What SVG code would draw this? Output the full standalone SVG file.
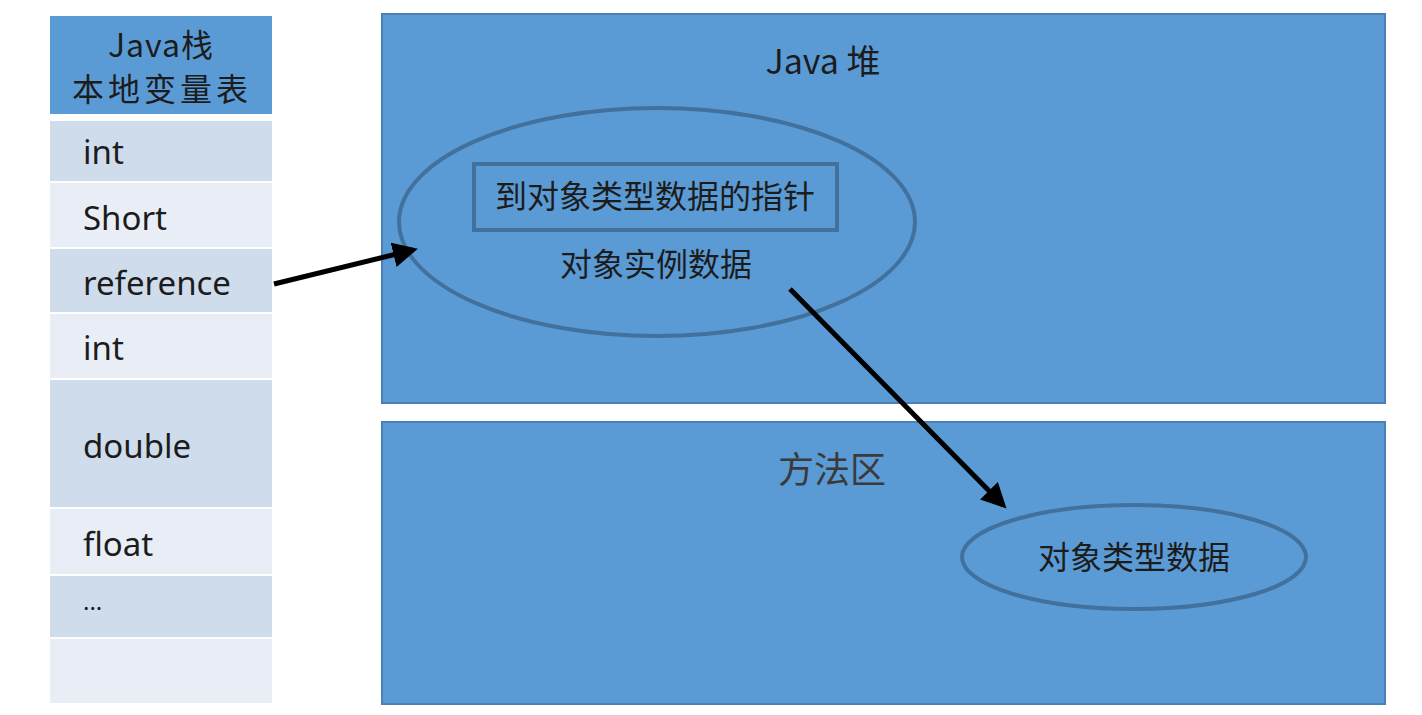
<svg xmlns="http://www.w3.org/2000/svg" width="1422" height="715" viewBox="0 0 1422 715">
<defs>
<style>
.t{font-family:"Noto Sans","Noto Sans CJK SC",sans-serif;fill:#1c1c1c}
.cjk{font-family:"Noto Sans CJK SC","Noto Sans",sans-serif;fill:#1c1c1c}
.dark{fill:#cfdcec}
.light{fill:#e9eef6}
.area{fill:#5b9bd5;stroke:#4a80b5;stroke-width:2}
.shape{fill:none;stroke:#41719c;stroke-width:4}
.conn{stroke:#000;stroke-width:5;fill:none}
</style>
<marker id="ah" markerWidth="5" markerHeight="5" refX="4" refY="2.5" orient="auto" markerUnits="strokeWidth">
<path d="M0,0 L5,2.5 L0,5 z" fill="#000"/>
</marker>
</defs>
<rect width="1422" height="715" fill="#ffffff"/>
<g id="stack">
<rect x="50" y="16" width="222" height="98" fill="#5b9bd5"/>
<text class="cjk" x="161" y="57" font-size="32" letter-spacing="1" text-anchor="middle">Java栈</text>
<text class="cjk" x="162" y="101" font-size="32" letter-spacing="4" text-anchor="middle">本地变量表</text>
<rect class="dark" x="50" y="121" width="222" height="60"/>
<rect class="light" x="50" y="183" width="222" height="64"/>
<rect class="dark" x="50" y="249" width="222" height="63"/>
<rect class="light" x="50" y="314" width="222" height="64"/>
<rect class="dark" x="50" y="380" width="222" height="127"/>
<rect class="light" x="50" y="509" width="222" height="65"/>
<rect class="dark" x="50" y="576" width="222" height="61"/>
<rect class="light" x="50" y="639" width="222" height="64"/>
<text class="t" x="83" y="164" font-size="33">int</text>
<text class="t" x="83" y="230" font-size="33">Short</text>
<text class="t" x="83" y="295" font-size="33">reference</text>
<text class="t" x="83" y="360" font-size="33">int</text>
<text class="t" x="83" y="458" font-size="33">double</text>
<text class="t" x="83" y="556" font-size="33">float</text>
<text class="t" x="83" y="610" font-size="24">...</text>
</g>
<g id="heap">
<rect class="area" x="382" y="14" width="1003" height="389"/>
<text class="cjk" x="823" y="74" font-size="34" text-anchor="middle">Java 堆</text>
</g>
<g id="method-area">
<rect class="area" x="382" y="422" width="1003" height="282"/>
<text class="cjk" x="832" y="483" font-size="36" text-anchor="middle" style="fill:#3a3a3a">方法区</text>
</g>
<g id="object">
<ellipse class="shape" cx="657" cy="222" rx="258" ry="114"/>
<rect class="shape" x="474" y="164" width="363" height="66"/>
<text class="cjk" x="655" y="208" font-size="32" text-anchor="middle">到对象类型数据的指针</text>
<text class="cjk" x="656" y="276" font-size="32" text-anchor="middle">对象实例数据</text>
</g>
<g id="type-data">
<ellipse class="shape" cx="1134" cy="557" rx="172" ry="52"/>
<text class="cjk" x="1134" y="569" font-size="32" text-anchor="middle">对象类型数据</text>
</g>
<g id="connectors">
<line class="conn" x1="274" y1="284" x2="413" y2="250" marker-end="url(#ah)"/>
<line class="conn" x1="790" y1="289" x2="1003" y2="505" marker-end="url(#ah)"/>
</g>
</svg>
